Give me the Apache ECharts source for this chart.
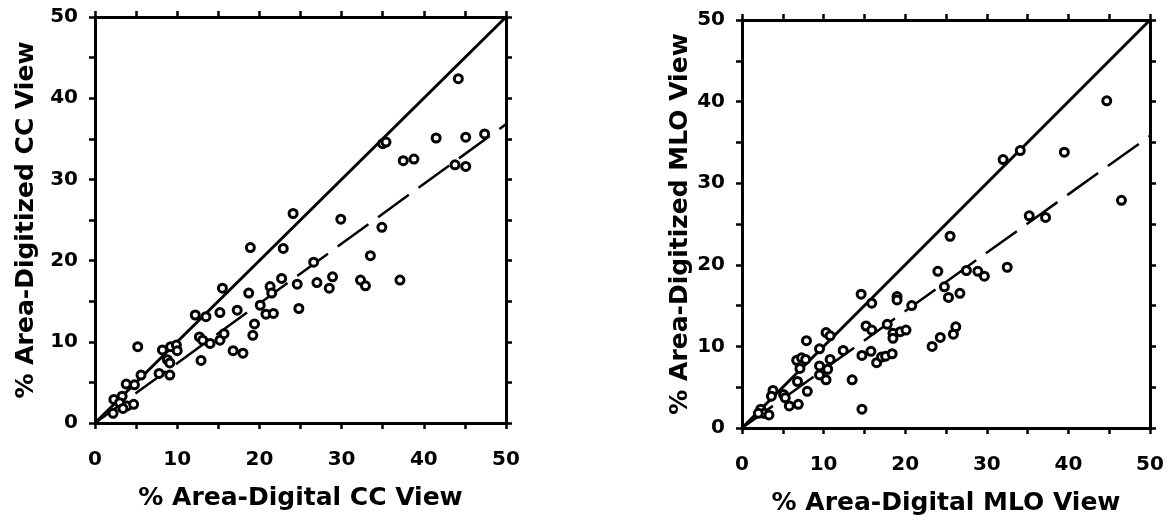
<!DOCTYPE html>
<html>
<head>
<meta charset="utf-8">
<script src="https://cdn.jsdelivr.net/npm/echarts@6.0.0/dist/echarts.min.js"></script>
<style>
  html, body { margin: 0; padding: 0; background: #fff; }
  #chart { width: 1168px; height: 521px; }
</style>
</head>
<body>
<div id="chart"></div>
<script>
// CC view: [digital, digitized]
const ccPoints = [
  [44.2, 42.4], [35.0, 34.4], [35.4, 34.6], [41.5, 35.1], [45.1, 35.2], [47.4, 35.6],
  [37.5, 32.3], [38.8, 32.5], [43.8, 31.8], [45.1, 31.6], [24.1, 25.8], [29.9, 25.1],
  [34.9, 24.1], [18.9, 21.6], [22.9, 21.5], [33.5, 20.6], [26.6, 19.8], [22.7, 17.8],
  [28.9, 18.0], [32.3, 17.6], [32.9, 16.9], [37.1, 17.6], [24.6, 17.1], [27.0, 17.3],
  [28.5, 16.6], [15.5, 16.6], [21.3, 16.8], [21.5, 16.0], [18.7, 16.0], [12.2, 13.3],
  [13.5, 13.1], [15.2, 13.6], [17.3, 13.9], [20.1, 14.5], [24.8, 14.1], [20.8, 13.4],
  [21.7, 13.5], [19.4, 12.2], [19.2, 10.8], [12.7, 10.6], [13.1, 10.2], [14.0, 9.8],
  [15.2, 10.2], [15.7, 11.0], [16.8, 8.9], [18.0, 8.6], [12.9, 7.7], [5.2, 9.4],
  [8.2, 9.0], [9.2, 9.4], [9.9, 9.6], [10.0, 8.9], [8.8, 7.8], [9.1, 7.4],
  [7.8, 6.1], [9.1, 5.9], [5.6, 5.9], [3.8, 4.8], [4.8, 4.7], [2.3, 2.9],
  [3.3, 3.3], [2.2, 1.2], [3.0, 2.5], [3.9, 2.1], [4.7, 2.3], [3.4, 1.8]
];

// MLO view: [digital, digitized]
const mloPoints = [
  [44.7, 40.1], [46.5, 27.9], [32.0, 32.9], [34.1, 34.0], [39.5, 33.8], [35.2, 26.0],
  [37.2, 25.8], [25.5, 23.5], [32.5, 19.7], [24.0, 19.2], [27.5, 19.3], [28.9, 19.2],
  [29.7, 18.6], [24.8, 17.3], [25.3, 16.0], [26.7, 16.5], [14.6, 16.4], [15.9, 15.3],
  [19.0, 16.1], [19.0, 15.7], [20.8, 15.0], [15.2, 12.5], [15.9, 12.0], [17.8, 12.7],
  [18.5, 11.6], [18.5, 11.0], [19.4, 11.8], [20.1, 12.0], [26.2, 12.4], [25.9, 11.5],
  [24.3, 11.1], [23.3, 10.0], [10.3, 11.7], [10.8, 11.3], [7.9, 10.7], [9.5, 9.7],
  [12.4, 9.5], [6.7, 8.3], [7.3, 8.6], [7.8, 8.4], [7.1, 7.3], [9.5, 7.6],
  [9.5, 6.5], [10.5, 7.2], [10.3, 5.9], [10.8, 8.4], [14.7, 8.9], [15.8, 9.4],
  [16.5, 8.0], [17.1, 8.7], [17.6, 8.8], [18.4, 9.1], [13.5, 5.9], [14.7, 2.3],
  [6.8, 5.7], [8.0, 4.5], [3.8, 4.6], [3.6, 3.9], [5.1, 4.1], [5.3, 3.7],
  [5.8, 2.7], [6.9, 2.9], [2.3, 2.3], [2.7, 1.8], [3.3, 1.6], [2.0, 1.8]
];

const identityLine = [[0, 0], [50, 50]];
const ccFit = [[0, 0], [50, 36.8]];
const mloFit = [[0, 0], [50, 35.8]];

const ccTitles = ['% Area-Digital CC View', '% Area-Digitized CC View'];
const mloTitles = ['% Area-Digital MLO View', '% Area-Digitized MLO View'];

const fontFamily = 'DejaVu Sans';

function axis(grid, position, title, gap) {
  const labeled = position === 'bottom' || position === 'left';
  return {
    type: 'value',
    gridIndex: grid,
    position: position,
    min: 0,
    max: 50,
    interval: 5,
    splitLine: { show: false },
    axisLine: { onZero: false, lineStyle: { color: '#000', width: 3 } },
    axisTick: { length: 6, lineStyle: { color: '#000', width: 2.5 } },
    axisLabel: {
      show: labeled,
      margin: position === 'bottom' ? 27 : 17,
      color: '#000',
      fontFamily: fontFamily,
      fontWeight: 'bold',
      fontSize: 20,
      formatter: (v) => (v % 10 === 0 ? String(v) : '')
    },
    name: labeled ? title : '',
    nameLocation: 'middle',
    nameGap: gap,
    nameTextStyle: {
      color: '#000',
      fontFamily: fontFamily,
      fontWeight: 'bold',
      fontSize: 25
    }
  };
}

function points(data, idx) {
  return {
    type: 'scatter',
    xAxisIndex: idx,
    yAxisIndex: idx,
    data: data,
    symbol: 'circle',
    symbolSize: 8,
    itemStyle: { color: '#fff', borderColor: '#000', borderWidth: 3, opacity: 1 },
    z: 3
  };
}

function line(data, idx, dashed) {
  return {
    type: 'line',
    xAxisIndex: idx,
    yAxisIndex: idx,
    data: data,
    symbol: 'none',
    silent: true,
    lineStyle: {
      color: '#000',
      width: dashed ? 2.5 : 3,
      type: dashed ? [38, 12] : 'solid'
    },
    z: 2
  };
}

const chart = echarts.init(document.getElementById('chart'), null, { renderer: 'canvas' });

const option = {
  backgroundColor: '#fff',
  animation: false,
  grid: [
    { left: 95, right: 662, top: 17, bottom: 98 },
    { left: 742, right: 18, top: 20, bottom: 93 }
  ],
  xAxis: [
    axis(0, 'bottom', ccTitles[0], 63),
    axis(0, 'top', '', 0),
    axis(1, 'bottom', mloTitles[0], 63),
    axis(1, 'top', '', 0)
  ],
  yAxis: [
    axis(0, 'left', ccTitles[1], 56),
    axis(0, 'right', '', 0),
    axis(1, 'left', mloTitles[1], 45),
    axis(1, 'right', '', 0)
  ],
  series: [
    line(identityLine, 0, false),
    line(ccFit, 0, true),
    points(ccPoints, 0),
    line(identityLine, 2, false),
    line(mloFit, 2, true),
    points(mloPoints, 2)
  ]
};

chart.setOption(option);
</script>
</body>
</html>
